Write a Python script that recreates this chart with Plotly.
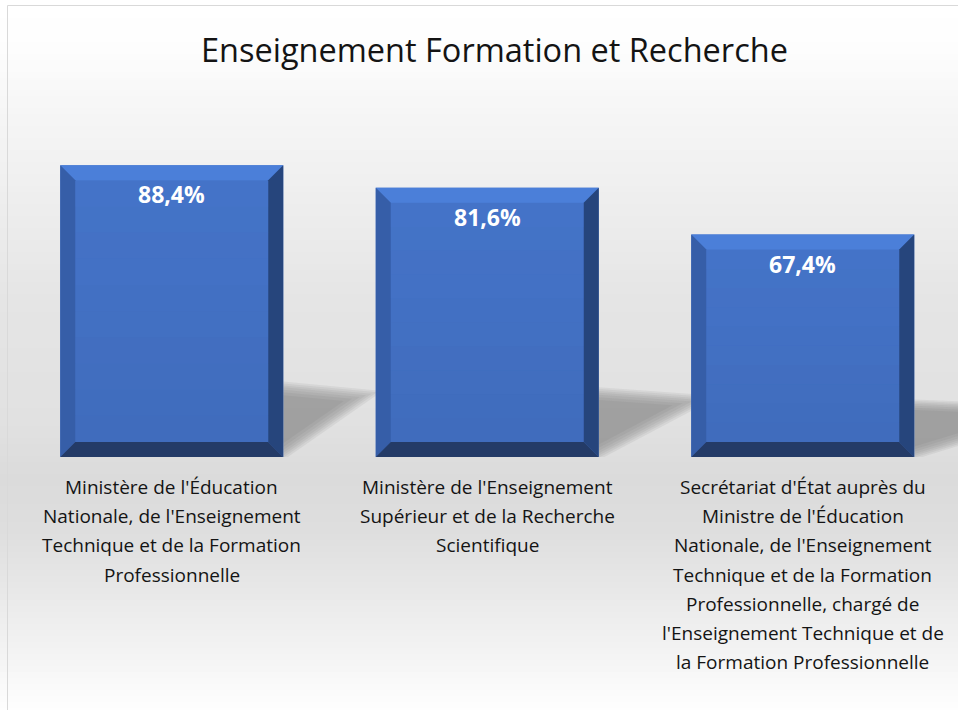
import numpy as np
import plotly.graph_objects as go

# ---- data ----
title_text = "Enseignement Formation et Recherche"
values = [88.4, 81.6, 67.4]
category_lines = [
    ["Ministère de l'Éducation", "Nationale, de l'Enseignement",
     "Technique et de la Formation", "Professionnelle"],
    ["Ministère de l'Enseignement", "Supérieur et de la Recherche",
     "Scientifique"],
    ["Secrétariat d'État auprès du", "Ministre de l'Éducation",
     "Nationale, de l'Enseignement", "Technique et de la Formation",
     "Professionnelle, chargé de", "l'Enseignement Technique et de",
     "la Formation Professionnelle"],
]
categories = [" ".join(c) for c in category_lines]

# ---- layout geometry (pixels) ----
W, H = 958, 710
L, T, BASE = 14, 127, 457
XUNIT = 315.5
YMAX = 100.0
YUNIT = (BASE - T) / YMAX
xr_max = -0.5 + (W - L) / XUNIT
BARW = 223 / XUNIT
BEV = 15
bx, by = BEV / XUNIT, BEV / YUNIT
shadow_len_px = [92, 112, 160]

FONT = "Open Sans"

def px_to_paper_x(px):
    return (px - L) / (W - L)

def px_to_paper_y(py):
    return (BASE - py) / (BASE - T)

xs = list(range(len(values)))

fig = go.Figure()
fig.add_trace(go.Bar(
    x=xs, y=values, width=BARW,
    marker=dict(color="#4574c9", line=dict(width=0)),
    hoverinfo="skip", showlegend=False,
))

shapes = []
# background gradient bands
stops_y = [0, 40, 110, 200, 300, 420, 480, 530, 600, 650, 700, 710]
stops_g = [255, 254, 246, 238, 229, 225, 219, 222, 234, 243, 252, 254]
band = 6
for y0 in range(0, H, band):
    g = int(round(np.interp(y0 + band / 2, stops_y, stops_g)))
    shapes.append(dict(type="rect", xref="paper", yref="paper", layer="below",
                       x0=px_to_paper_x(-5), x1=px_to_paper_x(W + 5),
                       y0=px_to_paper_y(y0 + band + 0.5), y1=px_to_paper_y(y0),
                       fillcolor=f"rgb({g},{g},{g})", line=dict(width=0)))

# shadows: triangle behind each bar, layered (scaled about the bar edge) to fake blur
for i, v in enumerate(values):
    xr = i + BARW / 2
    h = 0.25 * v
    ln = shadow_len_px[i] / XUNIT
    cx, cy = xr, 0.55 * h
    tri = [(xr, 0.0), (xr, h), (xr + ln, 0.88 * h)]
    for s in [1.08, 1.02, 0.96, 0.9, 0.83, 0.75, 0.66]:
        pts = [(cx + (a - cx) * s, cy + (b - cy) * s) for a, b in tri]
        pts = [(max(a, xr), b) for a, b in pts]
        path = "M " + " L ".join(f"{a:.4f},{b:.3f}" for a, b in pts) + " Z"
        shapes.append(dict(type="path", xref="x", yref="y", layer="below",
                           path=path, fillcolor="#5a5a5a", opacity=0.085,
                           line=dict(width=0)))

# bevels
for i, v in enumerate(values):
    x0, x1 = i - BARW / 2, i + BARW / 2
    y0, y1 = 0.0, v
    faces = [
        ([(x0, y1), (x1, y1), (x1 - bx, y1 - by), (x0 + bx, y1 - by)], "#4b7fd9"),
        ([(x0, y0), (x0, y1), (x0 + bx, y1 - by), (x0 + bx, y0 + by)], "#365ea8"),
        ([(x1, y0), (x1, y1), (x1 - bx, y1 - by), (x1 - bx, y0 + by)], "#26457c"),
        ([(x0, y0), (x1, y0), (x1 - bx, y0 + by), (x0 + bx, y0 + by)], "#243b67"),
    ]
    for pts, col in faces:
        path = "M " + " L ".join(f"{a:.4f},{b:.3f}" for a, b in pts) + " Z"
        shapes.append(dict(type="path", xref="x", yref="y", layer="above",
                           path=path, fillcolor=col, line=dict(width=0)))
    # subtle gradient on face: darker toward bottom
    fx0, fx1 = x0 + bx, x1 - bx
    n = 10
    for k in range(n):
        a = y0 + by + (y1 - 2 * by) * k / n
        b = y0 + by + (y1 - 2 * by) * (k + 1) / n
        op = 0.11 * (1 - (k + 0.5) / n)
        shapes.append(dict(type="rect", xref="x", yref="y", layer="above",
                           x0=fx0, x1=fx1, y0=a, y1=b,
                           fillcolor="#1a2f5a", opacity=op, line=dict(width=0)))

# chart border
shapes.append(dict(type="rect", xref="paper", yref="paper", layer="above",
                   x0=px_to_paper_x(7.5), x1=px_to_paper_x(W + 20),
                   y0=px_to_paper_y(H + 20), y1=px_to_paper_y(5.5),
                   fillcolor="rgba(0,0,0,0)", line=dict(color="#d9d9d9", width=1)))

annotations = []
annotations.append(dict(xref="paper", yref="paper", x=px_to_paper_x(494),
                        y=px_to_paper_y(50), text=title_text, showarrow=False,
                        xanchor="center", yanchor="middle",
                        font=dict(family=FONT, size=32.5, color="#141414")))
for i, v in enumerate(values):
    annotations.append(dict(xref="x", yref="y", x=i, y=v, yshift=-29,
                            text=f"{v:.1f}%".replace(".", ","), showarrow=False,
                            xanchor="center", yanchor="middle",
                            font=dict(family=FONT, size=23, color="white", weight="bold")))
    for k, line in enumerate(category_lines[i]):
        annotations.append(dict(xref="x", yref="y", x=i, y=0,
                                yshift=-(30 + k * 29.2), text=line, showarrow=False,
                                xanchor="center", yanchor="middle",
                                font=dict(family=FONT, size=19, color="#141414")))

fig.update_layout(
    width=W, height=H,
    margin=dict(l=L, r=0, t=T, b=H - BASE, pad=0),
    paper_bgcolor="white", plot_bgcolor="rgba(0,0,0,0)",
    xaxis=dict(range=[-0.5, xr_max], visible=False, fixedrange=True),
    yaxis=dict(range=[0, YMAX], visible=False, fixedrange=True),
    shapes=shapes, annotations=annotations,
    showlegend=False,
)

fig.write_html("out.html", config={"displayModeBar": False, "staticPlot": True},
               post_script="document.body.style.margin='0';document.body.style.overflow='hidden';")
